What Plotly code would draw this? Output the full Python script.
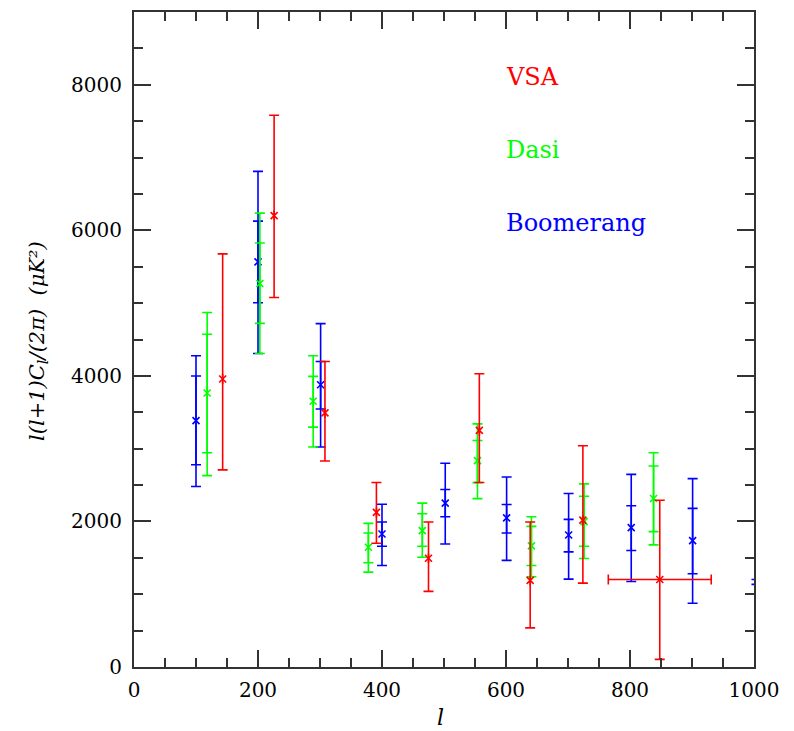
import plotly.graph_objects as go

# ---------------- data ----------------
# Boomerang (blue)
boom_l = [100, 200, 301, 400, 502, 601, 701, 802, 901]
boom_val = [3385, 5566, 3879, 1828, 2252, 2049, 1814, 1915, 1737]
boom_out_hi = [4276, 6810, 4718, 2236, 2799, 2610, 2384, 2647, 2589]
boom_out_lo = [2480, 4308, 3022, 1395, 1691, 1465, 1208, 1174, 875]
boom_in_hi = [3998, 6126, 4198, 1992, 2438, 2233, 2028, 2215, 2179]
boom_in_lo = [2778, 5005, 3546, 1659, 2065, 1842, 1582, 1600, 1281]
# Boomerang point just beyond l = 1000 (only its caps reach into the frame)
boom_edge_l = [1004]
boom_edge_val = [1169]
boom_edge_hi = [1203]
boom_edge_lo = [1135]

# Dasi (green)
dasi_l = [118, 203, 289, 378, 465, 554, 641, 726, 838]
dasi_val = [3765, 5270, 3651, 1645, 1873, 2836, 1664, 1997, 2316]
dasi_out_hi = [4872, 6236, 4276, 1974, 2252, 3341, 2065, 2516, 2944]
dasi_out_lo = [2630, 4308, 3022, 1304, 1508, 2313, 1240, 1491, 1678]
dasi_in_hi = [4572, 5826, 3993, 1842, 2106, 3113, 1932, 2347, 2762]
dasi_in_lo = [2944, 4722, 3296, 1432, 1659, 2533, 1395, 1659, 1860]

# VSA (red)
vsa_l = [143, 226, 308, 391, 475, 557, 639, 724, 848]
vsa_val = [3957, 6203, 3492, 2124, 1495, 3251, 1190, 2019, 1203]
vsa_hi = [5677, 7581, 4198, 2535, 1992, 4030, 1992, 3040, 2292]
vsa_lo = [2708, 5078, 2831, 1700, 1039, 2535, 538, 1153, 105]
vsa_lerr = [0, 0, 0, 0, 0, 0, 0, 0, 83]

series_names = ["VSA", "Dasi", "Boomerang"]
colors = {"VSA": "#ff0000", "Dasi": "#00ff00", "Boomerang": "#0000ff"}

FONT = "DejaVu Serif"
fig = go.Figure()


def add_series(l, val, hi, lo, color, in_hi=None, in_lo=None, xerr=None,
               show_marker=True):
    plus = [h - v for h, v in zip(hi, val)]
    minus = [v - m for v, m in zip(val, lo)]
    ex = None
    if xerr is not None:
        ex = dict(type="data", array=xerr, symmetric=True, color=color,
                  thickness=1.6, width=5)
    fig.add_trace(go.Scatter(
        x=l, y=val, mode="markers",
        marker=dict(symbol="x-thin", size=7, color=color,
                    opacity=1 if show_marker else 0,
                    line=dict(color=color, width=1.6)),
        error_y=dict(type="data", array=plus, arrayminus=minus, symmetric=False,
                     color=color, thickness=1.6, width=5),
        error_x=ex,
        showlegend=False, hoverinfo="skip"))
    if in_hi is not None:
        ip = [h - v for h, v in zip(in_hi, val)]
        im = [v - m for v, m in zip(val, in_lo)]
        fig.add_trace(go.Scatter(
            x=l, y=val, mode="markers",
            marker=dict(size=1, color=color, opacity=0),
            error_y=dict(type="data", array=ip, arrayminus=im, symmetric=False,
                         color=color, thickness=1.6, width=5),
            showlegend=False, hoverinfo="skip"))


add_series(boom_l, boom_val, boom_out_hi, boom_out_lo, colors["Boomerang"],
           boom_in_hi, boom_in_lo)
add_series(boom_edge_l, boom_edge_val, boom_edge_hi, boom_edge_lo,
           colors["Boomerang"], show_marker=False)
add_series(dasi_l, dasi_val, dasi_out_hi, dasi_out_lo, colors["Dasi"],
           dasi_in_hi, dasi_in_lo)
add_series(vsa_l, vsa_val, vsa_hi, vsa_lo, colors["VSA"], xerr=vsa_lerr)

axis_common = dict(
    showgrid=False, zeroline=False, showline=True, linecolor="#333333",
    linewidth=2, mirror="ticks", ticks="inside", ticklen=17, tickwidth=2,
    tickcolor="#333333", tickfont=dict(family=FONT, size=20, color="black"),
)

fig.update_xaxes(range=[0, 1000], dtick=200, tick0=0, ticklabelstandoff=4,
                 minor=dict(dtick=50, ticklen=9, tickwidth=2, ticks="inside",
                            tickcolor="#333333", showgrid=False),
                 **axis_common)
fig.update_yaxes(range=[0, 9000], dtick=2000, tick0=0, ticklabelstandoff=6,
                 minor=dict(dtick=500, ticklen=9, tickwidth=2, ticks="inside",
                            tickcolor="#333333", showgrid=False),
                 **axis_common)

W, H = 794, 731
L, R, T, B = 134, 40, 10, 64
pw, ph = W - L - R, H - T - B


def px(xp):
    return (xp - L) / pw


def py(yp):
    return (H - B - yp) / ph


ann = []
# legend-like labels
for name, ypx in zip(series_names, [75, 148, 222]):
    ann.append(dict(x=px(504), y=py(ypx), xref="paper", yref="paper",
                    text=name, showarrow=False, xanchor="left", yanchor="middle",
                    font=dict(family=FONT, size=24, color=colors[name])))
# axis titles
ann.append(dict(x=px(440), y=py(718), xref="paper", yref="paper",
                text="<i>l</i>", showarrow=False, xanchor="center",
                yanchor="middle", font=dict(family=FONT, size=22, color="black")))
ann.append(dict(x=px(38), y=py(340), xref="paper", yref="paper",
                text="<i>l(l+1)C<sub>l</sub>/(2π)  (μK²)</i>", showarrow=False,
                textangle=-90, xanchor="center", yanchor="middle",
                font=dict(family=FONT, size=21, color="black")))

fig.update_layout(
    width=W, height=H, margin=dict(l=L, r=R, t=T, b=B),
    paper_bgcolor="white", plot_bgcolor="white",
    annotations=ann, showlegend=False,
)

fig.write_html("out.html")
